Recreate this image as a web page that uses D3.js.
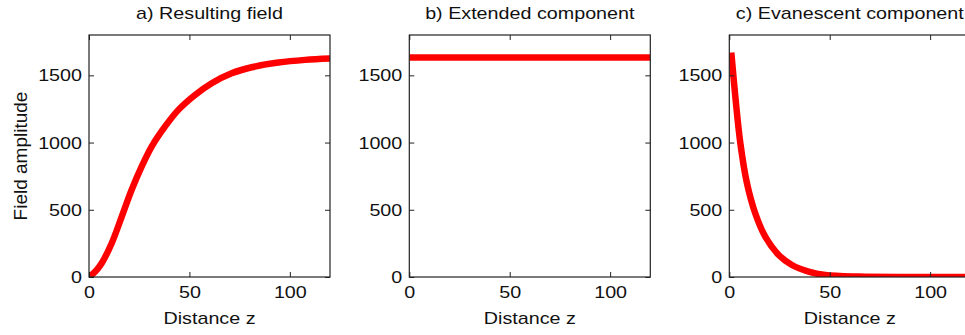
<!DOCTYPE html>
<html>
<head>
<meta charset="utf-8">
<script src="https://cdn.jsdelivr.net/npm/d3@7"></script>
<style>
body { margin: 0; background: #fff; }
text { font-family: "Liberation Sans", Arial, sans-serif; fill: #111; }
</style>
</head>
<body>
<div></div>
<script>
// valores
var titles = ["a) Resulting field", "b) Extended component", "c) Evanescent component"];
var xTicks = [0, 50, 100];
var yTicks = [0, 500, 1000, 1500];

// a) campo resultante
var zA = [0, 1.3, 4, 6.3, 11.3, 16.3, 21.2, 26.2, 31.2, 37.8, 44.5, 52.8, 61.1, 71, 81, 94.3, 107.6, 120];
var fieldA = [0, 15, 55, 102, 251, 449, 647, 821, 970, 1118, 1243, 1354, 1441, 1515, 1560, 1595, 1615, 1625];

// b) componente extendida
var zB = [0, 120];
var fieldB = [1632, 1632];

// c) componente evanescente
var zC = [1, 3, 5.5, 8.8, 12.9, 17.9, 24.6, 31.2, 39.5, 47.8, 64.4, 90, 120];
var fieldC = [1669, 1342, 995, 697, 474, 300, 164, 89, 40, 15, 3, 0, 0];

var series = [[zA, fieldA], [zB, fieldB], [zC, fieldC]];

var width = 965;
var height = 335;
var plotW = 241;
var plotH = 242;
var top0 = 35;
var lefts = [89, 409.3, 729.3];
var sx = 1.16; // texto algo ensanchado

var svg = d3.select("div")
    .append("svg")
    .attr("width", width)
    .attr("height", height);

var scalex = d3.scaleLinear().domain([0, 120]).range([0, plotW]);
var scaley = d3.scaleLinear().domain([0, 1800]).range([plotH, 0]);

var line = d3.line()
    .x(function(d) { return scalex(d[0]) })
    .y(function(d) { return scaley(d[1]) })
    .curve(d3.curveCatmullRom.alpha(0.5));

series.forEach(function(s, i) {
    var g = svg.append("g").attr("transform", "translate(" + lefts[i] + "," + top0 + ")");

    g.append("clipPath").attr("id", "clip" + i)
        .append("rect").attr("y", -4).attr("width", plotW).attr("height", plotH + 4);

    var pts = s[0].map(function(z, j) { return [z, s[1][j]] });
    g.append("path")
        .datum(pts)
        .attr("clip-path", "url(#clip" + i + ")")
        .attr("d", line)
        .attr("fill", "none")
        .attr("stroke", "#ff0000")
        .attr("stroke-width", 6.5)
        .attr("stroke-linejoin", "round");

    // ejes
    var xb = g.append("g").attr("transform", "translate(0," + plotH + ")")
        .call(d3.axisBottom(scalex).tickValues(xTicks).tickFormat(d3.format("d"))
            .tickSizeInner(-5).tickSizeOuter(0).tickPadding(9));
    var yl = g.append("g")
        .call(d3.axisLeft(scaley).tickValues(yTicks).tickFormat(d3.format("d"))
            .tickSizeInner(-5).tickSizeOuter(0).tickPadding(7));
    g.append("g")
        .call(d3.axisTop(scalex).tickValues(xTicks).tickSizeInner(-5).tickSizeOuter(0).tickFormat(""));
    g.append("g").attr("transform", "translate(" + plotW + ",0)")
        .call(d3.axisRight(scaley).tickValues(yTicks).tickSizeInner(-5).tickSizeOuter(0).tickFormat(""));

    g.selectAll(".domain").remove();
    g.selectAll(".tick line").attr("stroke", "#222");

    xb.selectAll("text").attr("font-size", 17).attr("transform", "scale(" + sx + ",1)").attr("fill", "#111");
    yl.selectAll("text").attr("font-size", 17).attr("x", -7 / sx).attr("transform", "scale(" + sx + ",1)").attr("fill", "#111");

    g.append("rect")
        .attr("width", plotW).attr("height", plotH)
        .attr("fill", "none").attr("stroke", "#222").attr("stroke-width", 1.2);

    g.append("text")
        .attr("transform", "translate(" + plotW / 2 + "," + (19 - top0) + ") scale(" + sx + ",1)")
        .attr("text-anchor", "middle").attr("font-size", 17)
        .text(titles[i]);

    g.append("text")
        .attr("transform", "translate(" + plotW / 2 + "," + (324 - top0) + ") scale(" + sx + ",1)")
        .attr("text-anchor", "middle").attr("font-size", 17)
        .text("Distance z");
});

svg.append("text")
    .attr("transform", "translate(27," + (top0 + plotH / 2) + ") rotate(-90)")
    .attr("text-anchor", "middle").attr("font-size", 19)
    .text("Field amplitude");
</script>
</body>
</html>
